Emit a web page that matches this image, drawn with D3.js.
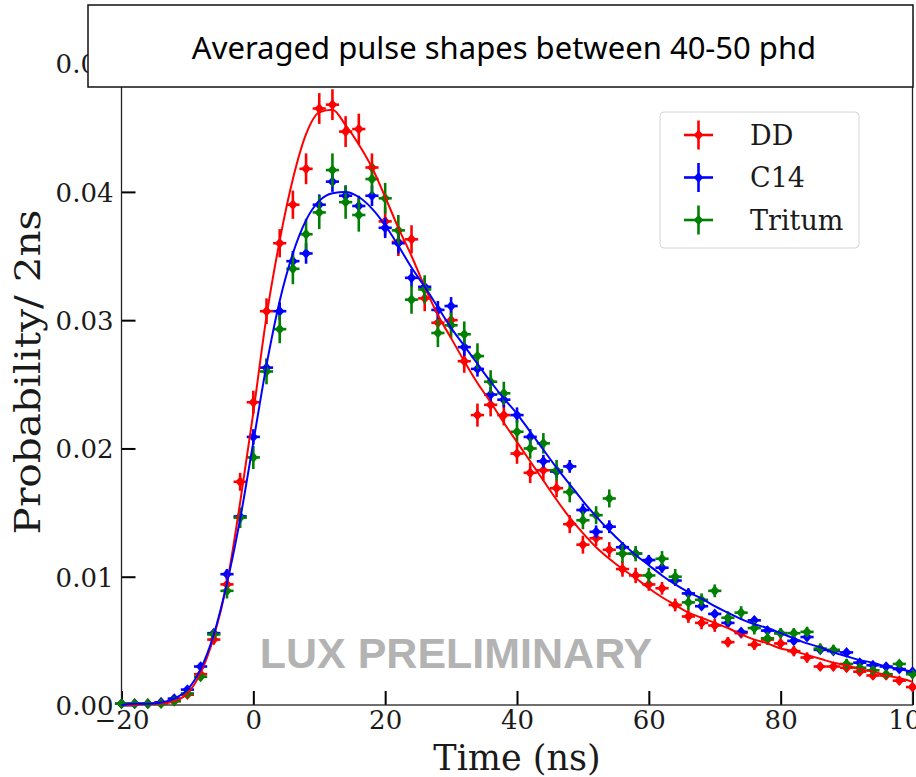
<!DOCTYPE html>
<html>
<head>
<meta charset="utf-8">
<script src="https://cdn.jsdelivr.net/npm/d3@7"></script>
<style>
  html, body { margin: 0; padding: 0; background: #fff; }
  svg { display: block; }
</style>
</head>
<body>
<div id="chart"></div>
<script>

// time bins (ns), one point every 2 ns
var times = [-20,-18,-16,-14,-12,-10,-8,-6,-4,-2,0,2,4,6,8,10,12,14,16,18,20,22,24,26,28,30,
             32,34,36,38,40,42,44,46,48,50,52,54,56,58,60,62,64,66,68,70,72,74,76,78,80,
             82,84,86,88,90,92,94,96,98,100];

// averaged pulse shapes, probability per 2 ns
var ddValues = [.0001,.0001,.0001,.0002,.0003,.0008,.0024,.0051,.0094,.0174,.0236,.0307,.0360,.0390,
                .0418,.0465,.0468,.0447,.0449,.0419,.0377,.0361,.0363,.0317,.0298,.0300,.0268,.0226,
                .0234,.0226,.0196,.0181,.0183,.0169,.0141,.0125,.0130,.0121,.0106,.0101,.0094,.0091,
                .0078,.0069,.0064,.0062,.0049,.0056,.0047,.0051,.0048,.0042,.0037,.0030,.0030,.0029,
                .0026,.0023,.0023,.0019,.0014];
var c14Values = [.0001,.0001,.0001,.0002,.0005,.0012,.0030,.0056,.0102,.0147,.0209,.0263,.0307,.0346,
                 .0352,.0390,.0408,.0397,.0389,.0397,.0372,.0360,.0333,.0326,.0308,.0311,.0279,.0262,
                 .0242,.0238,.0226,.0209,.0190,.0182,.0186,.0152,.0135,.0139,.0123,.0118,.0113,.0107,
                 .0097,.0087,.0077,.0071,.0064,.0057,.0066,.0058,.0056,.0050,.0053,.0043,.0042,.0041,
                 .0033,.0031,.0030,.0028,.0026];
var tritValues = [.0001,.0001,.0001,.0001,.0003,.0009,.0022,.0055,.0089,.0146,.0193,.0260,.0293,.0340,
                  .0367,.0384,.0417,.0392,.0382,.0410,.0395,.0370,.0316,.0324,.0290,.0296,.0289,.0272,
                  .0252,.0243,.0213,.0200,.0204,.0183,.0166,.0144,.0148,.0161,.0118,.0118,.0101,.0114,
                  .0100,.0080,.0082,.0089,.0068,.0072,.0060,.0052,.0056,.0056,.0057,.0044,.0043,.0032,
                  .0029,.0027,.0024,.0032,.0024];

// vertical error bars, in units of 1e-4
var ddErr = [1,1,1,1,1,2,3,4,6,7,9,10,11,11,12,12,12,12,12,11,11,11,11,10,10,10,9,9,9,8,8,8,8,7,7,7,
             6,6,6,6,5,5,5,5,5,5,4,4,4,4,4,4,4,3,3,3,3,3,3,3,3];
var c14Err = [1,1,1,1,1,1,2,3,4,5,6,7,7,8,8,8,8,8,8,8,8,8,7,7,7,7,7,6,6,6,6,6,5,5,5,5,5,5,4,4,4,4,
              4,4,3,3,3,3,3,3,3,3,3,3,2,2,2,2,2,2,2];
var tritErr = [1,1,1,1,1,2,3,4,6,8,9,10,11,12,12,13,13,13,13,12,12,12,11,11,11,10,10,10,9,9,9,8,8,8,
               8,7,7,7,7,6,6,6,6,6,5,5,5,5,5,5,4,4,4,4,4,4,3,3,3,3,3];

// half bin width used as the horizontal error (ns)
var binHalf = 1;

// fitted shapes drawn as lines (DD and C14 only)
var ddFit = [0,0,.0001,.0001,.0003,.0009,.0025,.0053,.0095,.0158,.0228,.0303,.0362,.0410,.0445,.0462,
             .0464,.0452,.0437,.0419,.0396,.0372,.0350,.0326,.0304,.0286,.0268,.0251,.0236,.0220,.0205,
             .0190,.0175,.0160,.0146,.0134,.0123,.0114,.0106,.0099,.0091,.0084,.0078,.0072,.0068,.0064,
             .0060,.0055,.0051,.0048,.0044,.0042,.0039,.0036,.0033,.0031,.0028,.0026,.0023,.0021,.0018];
var c14Fit = [0,.0001,.0001,.0002,.0005,.0012,.0028,.0055,.0095,.0145,.0205,.0265,.0315,.0352,.0378,
              .0393,.0399,.0400,.0396,.0387,.0374,.0358,.0341,.0326,.0310,.0294,.0280,.0266,.0252,.0239,
              .0227,.0213,.0199,.0185,.0172,.0159,.0147,.0136,.0126,.0117,.0109,.0101,.0094,.0088,.0083,
              .0077,.0072,.0067,.0063,.0060,.0056,.0052,.0048,.0045,.0041,.0038,.0035,.0033,.0030,.0028,.0026];

var seriesNames = ["DD", "C14", "Tritum"];
var seriesColours = ["#ff0000", "#0000ff", "#008000"];
var xTicks = [-20, 0, 20, 40, 60, 80, 100];
var yTicks = [0, 0.01, 0.02, 0.03, 0.04, 0.05];

var width = 916, height = 777;

var svg = d3.select("#chart").append("svg")
    .attr("width", width)
    .attr("height", height);

var x = d3.scaleLinear().domain([-20, 100]).range([121.5, 912.5]);
var y = d3.scaleLinear().domain([0, 0.0534]).range([705, 20]);

var serif = "'DejaVu Serif', serif";

var series = [
  { name: seriesNames[0], colour: seriesColours[0], values: ddValues, err: ddErr, fit: ddFit },
  { name: seriesNames[1], colour: seriesColours[1], values: c14Values, err: c14Err, fit: c14Fit },
  { name: seriesNames[2], colour: seriesColours[2], values: tritValues, err: tritErr, fit: null }
];

// axes: ticks pointing in, labels in serif
var xAxis = d3.axisBottom(x).tickValues(xTicks).tickSizeInner(-14).tickSizeOuter(0)
    .tickPadding(20).tickFormat(d3.format("d"));
var yAxis = d3.axisLeft(y).tickValues(yTicks).tickSizeInner(-14).tickSizeOuter(0)
    .tickPadding(22).tickFormat(d3.format(".2f"));

var gx = svg.append("g").attr("transform", "translate(0,705)").call(xAxis);
var gy = svg.append("g").attr("transform", "translate(121.5,0)").call(yAxis);

[gx, gy].forEach(function(g) {
  g.select(".domain").remove();
  g.selectAll(".tick line").attr("stroke", "#000").attr("stroke-width", 2);
  g.selectAll(".tick text")
    .attr("fill", "#1a1a1a")
    .style("font-family", serif)
    .style("font-size", "26px");
});
gx.selectAll(".tick text").attr("dy", "0.71em").attr("y", 6);
gy.selectAll(".tick text").attr("x", -8).attr("dy", "0.36em");

// frame
svg.append("rect")
    .attr("x", x(-20)).attr("y", y(0.0534))
    .attr("width", x(100) - x(-20)).attr("height", y(0) - y(0.0534))
    .attr("fill", "none").attr("stroke", "#222").attr("stroke-width", 1.3);

// markers with error bars
var diamond = d3.symbol().type(d3.symbolSquare).size(46);

series.forEach(function(s) {
  var pts = times.map(function(t, i) { return { t: t, v: s.values[i], e: s.err[i] * 1e-4 }; });
  var g = svg.append("g").attr("class", "series");

  g.selectAll(".ybar").data(pts).enter().append("line")
      .attr("x1", function(d) { return x(d.t); })
      .attr("x2", function(d) { return x(d.t); })
      .attr("y1", function(d) { return y(d.v - d.e); })
      .attr("y2", function(d) { return y(d.v + d.e); })
      .attr("stroke", s.colour).attr("stroke-width", 2.6);

  g.selectAll(".xbar").data(pts).enter().append("line")
      .attr("x1", function(d) { return x(d.t - binHalf); })
      .attr("x2", function(d) { return x(d.t + binHalf); })
      .attr("y1", function(d) { return y(d.v); })
      .attr("y2", function(d) { return y(d.v); })
      .attr("stroke", s.colour).attr("stroke-width", 2.6);

  g.selectAll(".mark").data(pts).enter().append("path")
      .attr("d", diamond)
      .attr("transform", function(d) { return "translate(" + x(d.t) + "," + y(d.v) + ") scale(1,1.12) rotate(45)"; })
      .attr("fill", s.colour);
});

// fitted lines
var line = d3.line()
    .x(function(d) { return x(d.t); })
    .y(function(d) { return y(d.v); })
    .curve(d3.curveMonotoneX);

series.forEach(function(s) {
  if (!s.fit) return;
  svg.append("path")
      .datum(times.map(function(t, i) { return { t: t, v: s.fit[i] }; }))
      .attr("d", line)
      .attr("fill", "none")
      .attr("stroke", s.colour)
      .attr("stroke-width", 2);
});

// axis labels
svg.append("text")
    .attr("x", x(40)).attr("y", 770)
    .attr("text-anchor", "middle")
    .style("font-family", serif).style("font-size", "35px").attr("fill", "#1a1a1a")
    .text("Time (ns)");

svg.append("text")
    .attr("transform", "translate(40," + 372 + ") rotate(-90) scale(1.16,1)")
    .attr("text-anchor", "middle")
    .style("font-family", serif).style("font-size", "35px").attr("fill", "#1a1a1a")
    .text("Probability/ 2ns");

// legend
var legend = svg.append("g").attr("transform", "translate(660,112)");
legend.append("rect")
    .attr("width", 199).attr("height", 136).attr("rx", 4)
    .attr("fill", "#fff").attr("stroke", "#d4d4d4").attr("stroke-width", 1);

var item = legend.selectAll(".item").data(series).enter().append("g")
    .attr("transform", function(d, i) { return "translate(0," + (23 + i * 42.5) + ")"; });
item.append("line").attr("x1", 24).attr("x2", 53).attr("y1", 0).attr("y2", 0)
    .attr("stroke", function(d) { return d.colour; }).attr("stroke-width", 2.6);
item.append("line").attr("x1", 38.5).attr("x2", 38.5).attr("y1", -14.5).attr("y2", 14.5)
    .attr("stroke", function(d) { return d.colour; }).attr("stroke-width", 2.6);
item.append("path").attr("d", diamond)
    .attr("transform", "translate(38.5,0) scale(1,1.12) rotate(45)")
    .attr("fill", function(d) { return d.colour; });
item.append("text")
    .attr("x", 90).attr("dy", "0.36em")
    .style("font-family", serif).style("font-size", "27px").attr("fill", "#1a1a1a")
    .text(function(d) { return d.name; });

// watermark
svg.append("text")
    .attr("x", 456).attr("y", 668)
    .attr("text-anchor", "middle")
    .style("font-family", "'Liberation Sans', Arial, sans-serif")
    .style("font-weight", "bold").style("font-size", "43px")
    .attr("fill", "#b3b3b3")
    .text("LUX PRELIMINARY");

// title box sits over the top of the axes
svg.append("rect")
    .attr("x", 88).attr("y", 5).attr("width", 825).attr("height", 82)
    .attr("fill", "#fff").attr("stroke", "#111").attr("stroke-width", 1.5);
svg.append("text")
    .attr("x", 504).attr("y", 59)
    .attr("text-anchor", "middle")
    .style("font-family", "'Noto Sans', sans-serif").style("font-size", "31px")
    .attr("fill", "#000")
    .text("Averaged pulse shapes between 40-50 phd");

</script>
</body>
</html>
